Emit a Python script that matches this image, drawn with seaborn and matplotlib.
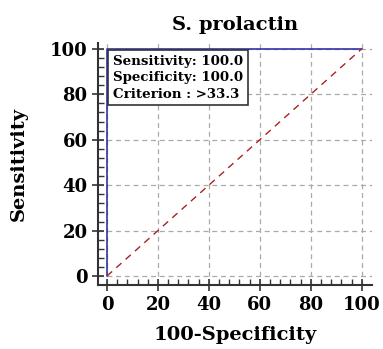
import matplotlib
matplotlib.use('Agg')
import matplotlib.pyplot as plt
import seaborn as sns
import pandas as pd

# ROC curve points (100-Specificity, Sensitivity)
fpr = [0, 0, 100]
tpr = [0, 100, 100]
diag = [0, 100]
ticks = [0, 20, 40, 60, 80, 100]

sns.set_style('ticks')
plt.rcParams['font.family'] = ['DejaVu Serif']
plt.rcParams['font.weight'] = 'bold'
plt.rcParams['text.color'] = 'black'
plt.rcParams['axes.labelcolor'] = 'black'
plt.rcParams['xtick.labelcolor'] = 'black'
plt.rcParams['ytick.labelcolor'] = 'black'

fig = plt.figure(figsize=(3.83, 3.49), dpi=100)
ax = fig.add_axes([0.256, 0.183, 0.715, 0.694])

for t in ticks:
    ax.axvline(t, color='#aaaaaa', ls=(0, (4, 3)), lw=0.9, zorder=0)
    ax.axhline(t, color='#aaaaaa', ls=(0, (4, 3)), lw=0.9, zorder=0)

roc = pd.DataFrame({'x': fpr, 'y': tpr})
sns.lineplot(data=roc, x='x', y='y', sort=False, estimator=None, color='#3333aa', lw=1.2, ax=ax)
ref = pd.DataFrame({'x': diag, 'y': diag})
sns.lineplot(data=ref, x='x', y='y', estimator=None, color='#aa2222', lw=1, ls=(0, (5, 4)), ax=ax)

ax.set_xlim(-3.5, 104)
ax.set_ylim(-4, 102.6)
ax.set_xticks(ticks)
ax.set_yticks(ticks)
ax.set_xticks(range(0, 101, 4), minor=True)
ax.set_yticks(range(0, 101, 4), minor=True)
ax.tick_params(which='major', direction='inout', length=8, width=1.2, labelsize=13, color='#333333')
ax.tick_params(which='minor', direction='in', length=4, width=1, color='#333333')
for lab in ax.get_xticklabels() + ax.get_yticklabels():
    lab.set_fontweight('bold')

for s in ['top', 'right']:
    ax.spines[s].set_visible(False)
for s in ['left', 'bottom']:
    ax.spines[s].set_linewidth(1.5)
    ax.spines[s].set_color('#333333')

ax.set_title('S. prolactin', fontsize=14, fontweight='bold', pad=9)
ax.set_xlabel('100-Specificity', fontsize=14, fontweight='bold', labelpad=9)
ax.set_ylabel('Sensitivity', fontsize=14, fontweight='bold', labelpad=16)

ax.text(2.4, 97.5, 'Sensitivity: 100.0\nSpecificity: 100.0\nCriterion : >33.3',
        fontsize=9.6, fontweight='bold', va='top', ha='left', linespacing=1.35,
        bbox=dict(boxstyle='square,pad=0.35', fc='white', ec='#333333', lw=1.2), zorder=5)

fig.savefig('out.png', dpi=100)
